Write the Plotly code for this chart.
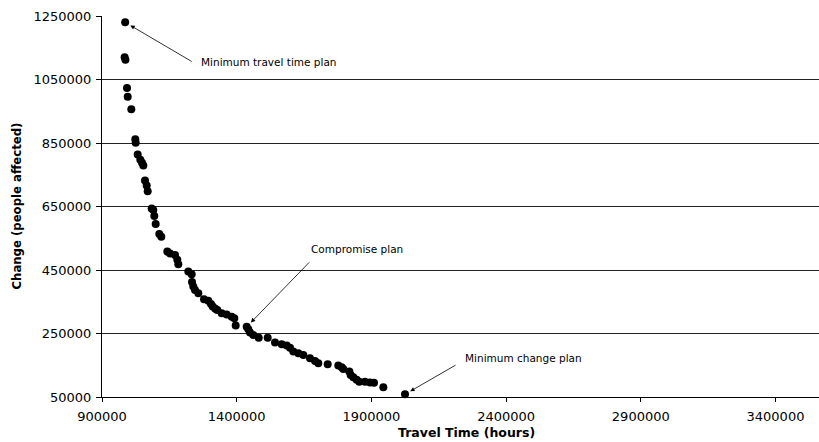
import plotly.graph_objects as go

# Pareto set of plans: total travel time vs. number of people affected by change
travel_time = [
    986000, 984000, 987000, 992800, 995400, 1008800, 1023700, 1025000, 1032500,
    1042200, 1048500, 1053400, 1059600, 1065900, 1069600, 1084500, 1090400,
    1094100, 1099300, 1112700, 1120100, 1142400, 1152400, 1171000, 1179600,
    1183300, 1220400, 1232900, 1234100, 1238900, 1245200, 1257500, 1278600,
    1294600, 1304600, 1310900, 1320600, 1328000, 1344300, 1362900, 1381400,
    1391100, 1396300, 1437100, 1443100, 1449400, 1461600, 1481700, 1515000,
    1542200, 1567000, 1585600, 1597900, 1610100, 1628700, 1647300, 1672100,
    1690700, 1702900, 1737800, 1777100, 1789700, 1795700, 1818000, 1823100,
    1832900, 1845300, 1855100, 1876300, 1894800, 1909700, 1944300, 2024800,
]
people_affected = [
    1230000, 1120000, 1112000, 1023000, 996000, 956000, 862000, 851000, 814000,
    797000, 788000, 779000, 732000, 716000, 698000, 644000, 639000,
    620000, 595000, 563000, 555000, 508000, 502000, 497000, 482000,
    468000, 445000, 437000, 412000, 398000, 387000, 377000, 358000,
    353000, 343000, 335000, 328000, 324000, 314000, 310000, 303000,
    298000, 275000, 271000, 263000, 253000, 245000, 237000, 237000,
    222000, 216000, 212000, 205000, 193000, 188000, 182000, 172000,
    163000, 156000, 153000, 149000, 144000, 138000, 130000, 119000,
    112000, 104000, 98000, 98000, 96000, 95000, 80500, 58500,
]

x_ticks = [900000, 1400000, 1900000, 2400000, 2900000, 3400000]
y_ticks = [50000, 250000, 450000, 650000, 850000, 1050000, 1250000]

FONT = "DejaVu Sans"

fig = go.Figure()
fig.add_trace(go.Scatter(
    x=travel_time, y=people_affected, mode="markers",
    marker=dict(color="black", size=8, symbol="circle", line=dict(width=0)),
    cliponaxis=False, showlegend=False,
))

# Highlighted plans: fastest, compromise, least change
fast_i = people_affected.index(max(people_affected))
least_i = people_affected.index(min(people_affected))
comp_i = 43

arrows = [
    (fast_i, 68, 40),
    (comp_i, 64, -66),
    (least_i, 52, -30),
]
for i, ax, ay in arrows:
    fig.add_annotation(
        x=travel_time[i], y=people_affected[i], xref="x", yref="y",
        ax=ax, ay=ay, axref="pixel", ayref="pixel",
        text="", showarrow=True, arrowhead=2, arrowsize=1.1,
        arrowwidth=0.8, arrowcolor="black", standoff=6,
    )

labels = [
    ("Minimum travel time plan", 1260000, 1105000),
    ("Compromise plan", 1668000, 516000),
    ("Minimum change plan", 2240000, 173000),
]
for txt, lx, ly in labels:
    fig.add_annotation(
        x=lx, y=ly, xref="x", yref="y", text=txt, showarrow=False,
        xanchor="left", yanchor="middle",
        font=dict(family=FONT, size=10.5, color="black"),
    )

# Axis titles
fig.add_annotation(
    x=(466.5 - 102) / 717, y=(397 - 432) / 381, xref="paper", yref="paper",
    text="<b>Travel Time (hours)</b>", showarrow=False,
    xanchor="center", yanchor="middle",
    font=dict(family=FONT, size=12.5, color="black"),
)
fig.add_annotation(
    x=(16 - 102) / 717, y=0.5, xref="paper", yref="paper",
    text="<b>Change (people affected)</b>", showarrow=False, textangle=-90,
    xanchor="center", yanchor="middle",
    font=dict(family=FONT, size=11.7, color="black"),
)

fig.update_xaxes(
    range=[900000, 3561500], tickvals=x_ticks,
    ticktext=[str(v) for v in x_ticks],
    showgrid=False, zeroline=False,
    showline=True, linecolor="black", linewidth=1,
    ticks="outside", ticklen=4, tickcolor="black",
    ticklabelstandoff=3,
    tickfont=dict(family=FONT, size=13, color="black"),
)
fig.update_yaxes(
    range=[50000, 1250000], tickvals=y_ticks,
    ticktext=[str(v) for v in y_ticks],
    showgrid=True, gridcolor="#222222", gridwidth=1, zeroline=False,
    showline=True, linecolor="black", linewidth=1,
    ticks="outside", ticklen=5, tickcolor="black",
    ticklabelstandoff=2,
    tickfont=dict(family=FONT, size=13, color="black"),
)

fig.update_layout(
    width=819, height=442,
    margin=dict(l=102, r=0, t=16, b=45),
    paper_bgcolor="white", plot_bgcolor="white",
    font=dict(family=FONT, color="black"),
)

fig.write_html("out.html")
